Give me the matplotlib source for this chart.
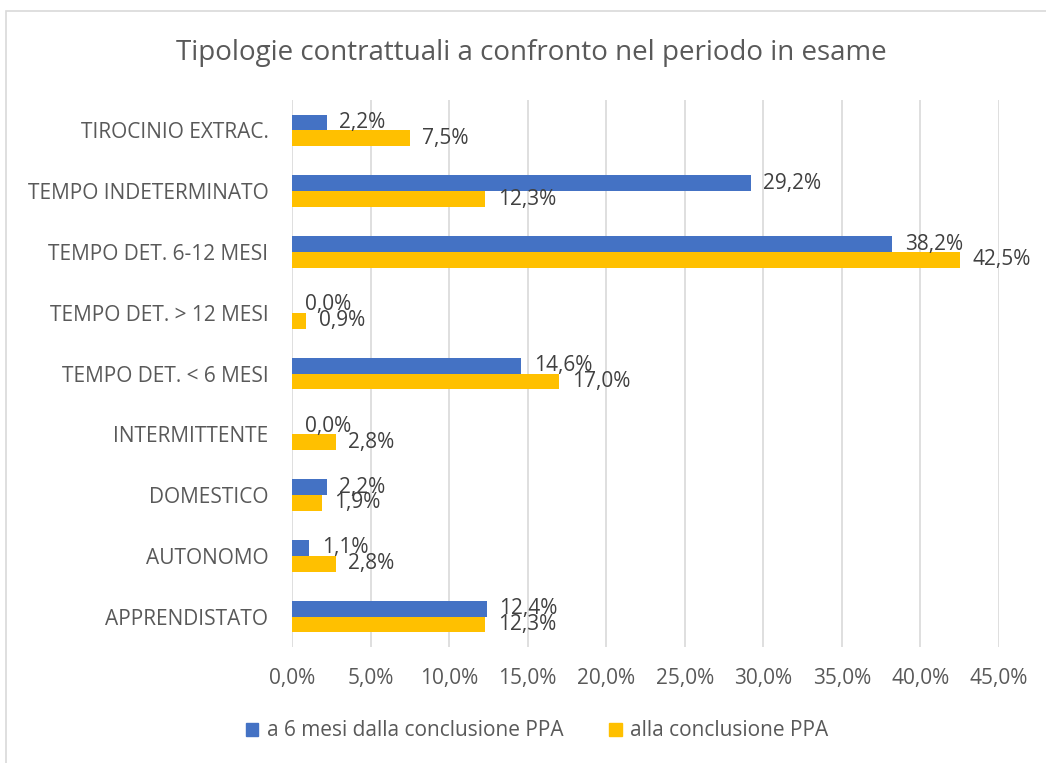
import matplotlib.pyplot as plt
import matplotlib.patches as mpatches
from matplotlib.ticker import FuncFormatter, MultipleLocator

plt.rcParams.update({
    'font.family': 'Open Sans',
    'font.size': 15,
    'text.color': '#595959',
    'xtick.color': '#595959',
    'ytick.color': '#595959',
})

categories = ['TIROCINIO EXTRAC.', 'TEMPO INDETERMINATO', 'TEMPO DET. 6-12 MESI',
              'TEMPO DET. > 12 MESI', 'TEMPO DET. < 6 MESI', 'INTERMITTENTE',
              'DOMESTICO', 'AUTONOMO', 'APPRENDISTATO']
sei_mesi = [2.2, 29.2, 38.2, 0.0, 14.6, 0.0, 2.2, 1.1, 12.4]
conclusione = [7.5, 12.3, 42.5, 0.9, 17.0, 2.8, 1.9, 2.8, 12.3]
series_names = ['a 6 mesi dalla conclusione PPA', 'alla conclusione PPA']

blue = '#4472C4'
yellow = '#FFC000'
grid_col = '#D9D9D9'

fig = plt.figure(figsize=(10.46, 7.63), dpi=100)
ax = fig.add_axes([292 / 1046, 1 - 647 / 763, (999 - 292) / 1046, (647 - 100) / 763])

# chart area border (Excel style)
fig.patches.append(mpatches.Rectangle((6 / 1046, -0.05), 1.1, 1 - 11 / 763 + 0.05,
                                      transform=fig.transFigure, fill=False,
                                      edgecolor=grid_col, linewidth=1.2))

h = 0.26
y = list(range(len(categories)))
y_blue = [i - h / 2 for i in y]
y_yel = [i + h / 2 for i in y]

b1 = ax.barh(y_blue, [v / 100 for v in sei_mesi], height=h, color=blue, zorder=3)
b2 = ax.barh(y_yel, [v / 100 for v in conclusione], height=h, color=yellow, zorder=3)

for bars, vals in ((b1, sei_mesi), (b2, conclusione)):
    for bar, v in zip(bars, vals):
        ax.annotate(f'{v:.1f}%'.replace('.', ','),
                    (bar.get_width(), bar.get_y() + bar.get_height() / 2),
                    xytext=(9, 0), textcoords='offset points',
                    ha='left', va='center', fontsize=15, color='#404040', zorder=4)

ax.set_ylim(len(categories) - 0.5, -0.5)
ax.set_yticks(y)
ax.set_yticklabels(categories, fontsize=15)
ax.set_xlim(0, 0.45)
ax.xaxis.set_major_locator(MultipleLocator(0.05))
ax.xaxis.set_major_formatter(FuncFormatter(lambda x, p: f'{x * 100:.1f}%'.replace('.', ',')))
ax.tick_params(axis='x', labelsize=15, length=0, pad=15)
ax.tick_params(axis='y', length=0, pad=17)
ax.grid(axis='x', color=grid_col, linewidth=1.2, zorder=0)
for s in ax.spines.values():
    s.set_visible(False)

fig.text(531 / 1046, 1 - 53 / 763, 'Tipologie contrattuali a confronto nel periodo in esame',
         ha='center', va='center', fontsize=20, color='#595959')

handles = [mpatches.Patch(color=blue, label=series_names[0]),
           mpatches.Patch(color=yellow, label=series_names[1])]
fig.legend(handles=handles, loc='center', bbox_to_anchor=(537 / 1046, 1 - 731 / 763),
           ncol=2, frameon=False, fontsize=15, handlelength=0.6, handleheight=0.6,
           handletextpad=0.4, columnspacing=2.2)

fig.savefig('out.png', dpi=100)
